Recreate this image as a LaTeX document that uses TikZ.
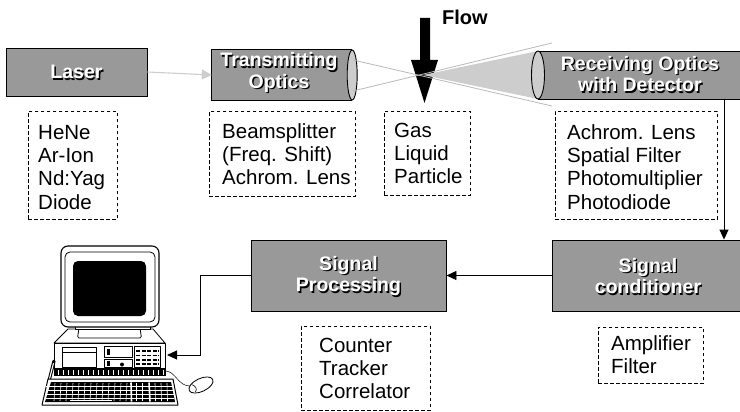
\documentclass[tikz,border=0pt]{standalone}
\usepackage{fontspec}
\setmainfont{Liberation Sans}
\usetikzlibrary{arrows.meta,calc}

\definecolor{boxgray}{HTML}{999999}
\definecolor{lensgray}{HTML}{CDCDCD}
\definecolor{beamgray}{HTML}{B8B8B8}

% white caption with a dark drop shadow: name, position, text
\newcommand{\embosslabel}[3]{%
  \node[lbl, text=black] (#1-shadow) at ($(#2)+(1.4,1.4)$) {#3};
  \node[lbl, text=white] (#1) at (#2) {#3};}

\begin{document}
\begin{tikzpicture}[x=1pt,y=-1pt,
  unit/.style={draw=black, fill=boxgray, line width=0.9pt, inner sep=0pt},
  dbox/.style={draw=black, dash pattern=on 3.5pt off 2.5pt, line width=0.8pt,
    inner sep=0pt, anchor=north west},
  info/.style={font=\fontsize{20.5pt}{23.3pt}\selectfont, align=left,
    inner sep=0pt, anchor=north west},
  lbl/.style={font=\bfseries\fontsize{19.5pt}{21.5pt}\selectfont, align=center,
    inner sep=0pt},
  link/.style={line width=0.9pt, -{Triangle[length=10pt,width=9pt]}},
  glink/.style={draw=lensgray, line width=1.1pt,
    -{Triangle[length=10pt,width=10pt,fill=lensgray]}},
  beam/.style={draw=beamgray, line width=0.8pt},
  pc/.style={line width=0.8pt, line join=round},
]
\useasboundingbox (0,0) rectangle (740,412);

% ---------------- flow arrow (behind the beams)
\fill[black] (420,18) -- (430,18) -- (430,60) -- (438,60) -- (424.5,103)
  -- (411,60) -- (420,60) -- cycle;
\node[font=\bfseries\fontsize{20pt}{22pt}\selectfont, anchor=base west,
  inner sep=0pt] (flowlbl) at (442,25) {Flow};

% ---------------- laser
\node[unit, minimum width=141pt, minimum height=48pt] (laser) at (76.5,72) {};
\embosslabel{laserlbl}{76.5,72}{Laser}

% ---------------- transmitting optics (cylinder)
\node[inner sep=0pt, minimum width=140pt, minimum height=50pt] (txopt) at (282,75) {};
\fill[boxgray] (txopt.south west) rectangle (txopt.north east);
\draw[line width=0.9pt] (txopt.north east) -- (txopt.north west)
  -- (txopt.south west) -- (txopt.south east);
\draw[line width=0.9pt, fill=lensgray] (txopt.east) ellipse [x radius=5, y radius=25];
\embosslabel{txlbl}{279,72.5}{Transmitting\\Optics}

\draw[glink] (laser.east) -- (txopt.west);

% ---------------- probe volume: scattered light cone and crossing beams
\coordinate (probe) at (423,75);
\coordinate (rxtop) at (538,51);
\coordinate (rxbot) at (538,99);
\fill[lensgray] (probe) -- (rxtop) -- (rxbot) -- cycle;
\coordinate (beamAin) at (353,60);
\coordinate (beamAout) at (552,106);
\coordinate (beamBin) at (353,91);
\coordinate (beamBout) at (552,43);
\draw[beam] (beamAin) -- (beamAout);
\draw[beam] (beamBin) -- (beamBout);

% ---------------- receiving optics (cylinder running off to the right)
\fill[boxgray] (rxtop) rectangle (740,99);
\draw[line width=0.9pt] (rxtop) -- (740,51);
\draw[line width=0.9pt] (rxbot) -- (740,99);
\draw[line width=0.9pt, fill=lensgray] (538,75) ellipse [x radius=6.5, y radius=24];
\embosslabel{rxlbl}{640,74}{Receiving Optics\\with Detector}

% ---------------- signal chain
\node[unit, minimum width=195pt, minimum height=71pt] (sigproc) at (348.5,275.5) {};
\embosslabel{sigproclbl}{348.5,276}{Signal\\Processing}
\node[unit, minimum width=189pt, minimum height=71pt] (sigcond) at (646.5,275.5) {};
\embosslabel{sigcondlbl}{648,276}{Signal\\conditioner}

\coordinate (rxout) at (724,99);
\draw[link] (rxout) -- (rxout |- sigcond.north);
\draw[link] (sigcond.west) -- (sigproc.east);
\coordinate (bend) at (200,275.5);
\coordinate (pcport) at (167,355);
\draw[link] (sigproc.west) -- (bend) |- (pcport);

% ---------------- dashed detail boxes
\node[dbox, minimum width=89pt, minimum height=108pt] (laserinfo) at (28,111) {};
\node[info] (lasertext) at (38,122.5)
  {\rule{0pt}{16.5pt}HeNe\\Ar-Ion\\Nd:Yag\\Diode};

\node[dbox, minimum width=146pt, minimum height=85pt] (txinfo) at (209,111) {};
\node[info] (txtext) at (222,121.5)
  {\rule{0pt}{16.5pt}Beamsplitter\\(Freq. Shift)\\Achrom. Lens};

\node[dbox, minimum width=86pt, minimum height=84pt] (flowinfo) at (384,111) {};
\node[info] (flowtext) at (394,120.5)
  {\rule{0pt}{16.5pt}Gas\\Liquid\\Particle};

\node[dbox, minimum width=162pt, minimum height=108pt] (rxinfo) at (555,111) {};
\node[info] (rxtext) at (567,122.5)
  {\rule{0pt}{16.5pt}Achrom. Lens\\Spatial Filter\\Photomultiplier\\Photodiode};

\node[dbox, minimum width=129pt, minimum height=84pt] (procinfo) at (301,326) {};
\node[info] (proctext) at (319,335.5)
  {\rule{0pt}{16.5pt}Counter\\Tracker\\Correlator};

\node[dbox, minimum width=105pt, minimum height=56pt] (condinfo) at (598,327) {};
\node[info] (condtext) at (611,333.5)
  {\rule{0pt}{16.5pt}Amplifier\\Filter};

% ---------------- personal computer
% system unit: top face and front
\draw[pc, fill=white] (68,329) -- (153,329) -- (165,343) -- (54,343) -- cycle;
\draw[pc, fill=white, line width=1pt] (54,343) rectangle (165,368);
\fill (54,368) rectangle (166,376);
\foreach \x in {58,63,...,163} \draw[white, line width=0.5pt] (\x,370) -- (\x,374.5);
\draw[pc] (62,347) rectangle (96,367);
\draw[pc] (62,352) -- (96,352);
\draw[pc] (104,346) rectangle (132,357);
\draw[pc] (104,359) rectangle (132,367);
\fill (107,349) rectangle (110,355);
\fill (107,361) rectangle (110,366);
\fill (122,364.5) circle (2);
\draw[pc] (134,346) rectangle (160,367);
\foreach \y in {351,355.5,360,364}
  \draw[line width=1.6pt, dash pattern=on 4pt off 1.5pt] (136,\y) -- (158.5,\y);

% monitor stand and monitor
\draw[pc, fill=white, rounded corners=1.5pt] (79,328) -- (140,328) -- (141.5,338)
  -- (77.5,338) -- cycle;
\draw[pc, fill=white] (75,322) rectangle (150,329);
\draw[line width=1.1pt, fill=white, rounded corners=7pt] (61,246) rectangle (159,327);
\draw[pc, rounded corners=5pt] (65,252) rectangle (155,322);
\fill[rounded corners=5pt] (73,261) rectangle (146,316);

% light pen on its cable
\draw[line width=3.2pt, line cap=round] (49,381) -- (54,361);
\draw[white, line width=1.1pt, line cap=round] (49.6,378.5) -- (53.4,363.5);

% keyboard
\draw[pc, fill=white, line width=1pt] (48,379) -- (173,379) -- (178,405)
  -- (42,405) -- cycle;
\fill (51,382) -- (171,382) -- (175,402) -- (45,402) -- cycle;
\foreach \y in {386.5,390.5,394.5,398.5}
  \draw[white, line width=0.6pt] (46,\y) -- (174,\y);
\foreach \x in {55,61,...,127} \draw[white, line width=0.6pt] (\x,383) -- (\x-1,401);
\foreach \x in {136,142} \draw[white, line width=0.6pt] (\x,383) -- (\x,401);
\foreach \x in {155,161,167} \draw[white, line width=0.6pt] (\x,383) -- (\x+0.5,401);
\draw[white, line width=1.6pt] (131,382.5) -- (131.5,401.5);
\draw[white, line width=1.6pt] (149,382.5) -- (150,401.5);
\fill[white] (70,399.5) rectangle (112,401);

% mouse and its cable
\draw[line width=0.5pt] (166,371) .. controls (176,372) and (178,386) .. (190,386);
\draw[pc, fill=white, rotate around={25:(201,385)}] (201,385)
  ellipse [x radius=13, y radius=6.5];
\draw[line width=0.6pt, rotate around={25:(201,385)}] (193,381) .. controls (196,384) and (196,387) .. (193,389);
\end{tikzpicture}
\end{document}
